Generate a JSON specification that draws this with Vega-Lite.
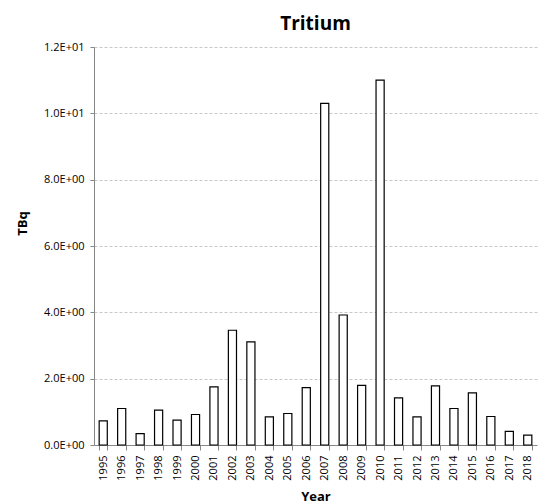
{
  "$schema": "https://vega.github.io/schema/vega-lite/v6.json",
  "autosize": {"type": "none"},
  "width": 443,
  "height": 398,
  "padding": {"left": 94, "top": 47, "right": 13, "bottom": 59},
  "background": "white",
  "title": {
    "text": "Tritium",
    "font": "Open Sans",
    "fontSize": 19,
    "fontWeight": "bold",
    "color": "#000000",
    "anchor": "middle",
    "offset": 7
  },
  "data": {
    "values": [
      {"Year": "1995", "TBq": 0.73},
      {"Year": "1996", "TBq": 1.10},
      {"Year": "1997", "TBq": 0.34},
      {"Year": "1998", "TBq": 1.05},
      {"Year": "1999", "TBq": 0.75},
      {"Year": "2000", "TBq": 0.92},
      {"Year": "2001", "TBq": 1.75},
      {"Year": "2002", "TBq": 3.46},
      {"Year": "2003", "TBq": 3.11},
      {"Year": "2004", "TBq": 0.85},
      {"Year": "2005", "TBq": 0.95},
      {"Year": "2006", "TBq": 1.73},
      {"Year": "2007", "TBq": 10.3},
      {"Year": "2008", "TBq": 3.92},
      {"Year": "2009", "TBq": 1.80},
      {"Year": "2010", "TBq": 11.0},
      {"Year": "2011", "TBq": 1.42},
      {"Year": "2012", "TBq": 0.85},
      {"Year": "2013", "TBq": 1.78},
      {"Year": "2014", "TBq": 1.10},
      {"Year": "2015", "TBq": 1.57},
      {"Year": "2016", "TBq": 0.86},
      {"Year": "2017", "TBq": 0.41},
      {"Year": "2018", "TBq": 0.30}
    ]
  },
  "mark": {
    "type": "bar",
    "fill": "white",
    "stroke": "black",
    "strokeWidth": 1.2
  },
  "encoding": {
    "x": {
      "field": "Year",
      "type": "ordinal",
      "title": "Year",
      "scale": {"paddingInner": 0.56, "paddingOuter": 0.28},
      "axis": {
        "labelAngle": -90,
        "labelFontSize": 11,
        "labelPadding": 5,
        "tickBand": "extent",
        "tickSize": 5,
        "titlePadding": 10,
        "grid": false
      }
    },
    "y": {
      "field": "TBq",
      "type": "quantitative",
      "title": "TBq",
      "scale": {"domain": [0, 12], "nice": false},
      "axis": {
        "values": [0, 2, 4, 6, 8, 10, 12],
        "labelExpr": "datum.value >= 10 ? format(datum.value / 10, '.1f') + 'E+01' : format(datum.value, '.1f') + 'E+00'",
        "labelFontSize": 11,
        "labelPadding": 6,
        "tickSize": 4,
        "titlePadding": 14,
        "titleY": 176,
        "grid": true,
        "gridDash": [3, 2],
        "gridColor": "#c8c8c8"
      }
    }
  },
  "config": {
    "view": {"stroke": null},
    "axis": {
      "labelFont": "Open Sans",
      "labelColor": "#000000",
      "titleFont": "Open Sans",
      "titleFontSize": 13,
      "titleFontWeight": "bold",
      "titleColor": "#000000",
      "domainColor": "#888888",
      "tickColor": "#888888"
    }
  }
}
